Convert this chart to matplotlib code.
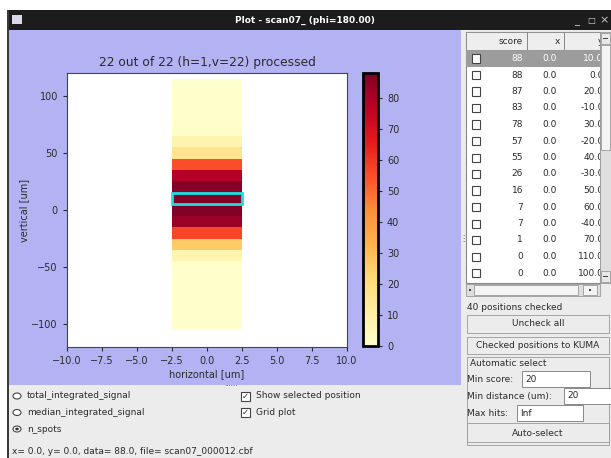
import matplotlib
matplotlib.use("Agg")
import matplotlib.pyplot as plt
from matplotlib.patches import Rectangle, Circle
from matplotlib.transforms import Bbox
import numpy as np

# n_spots per vertical position (h=1 column at x=0)
y_positions = [-100, -90, -80, -70, -60, -50, -40, -30, -20, -10, 0,
               10, 20, 30, 40, 50, 60, 70, 80, 90, 100, 110]
n_spots = [0, 0, 0, 0, 0, 0, 7, 26, 57, 83, 88,
           88, 87, 78, 55, 16, 7, 1, 0, 0, 0, 0]
x_positions = [0.0]
selected_y = 10

# table rows (sorted by score)
table_scores = [88, 88, 87, 83, 78, 57, 55, 26, 16, 7, 7, 1, 0, 0]
table_x = [0.0, 0.0, 0.0, 0.0, 0.0, 0.0, 0.0, 0.0, 0.0, 0.0, 0.0, 0.0, 0.0, 0.0]
table_y = [10.0, 0.0, 20.0, -10.0, 30.0, -20.0, 40.0, -30.0, 50.0, 60.0, -40.0, 70.0, 110.0, 100.0]

radio_labels = ["total_integrated_signal", "median_integrated_signal", "n_spots"]
check_labels = ["Show selected position", "Grid plot"]

W, H = 611, 458
LAV = "#b3b3f3"
GREY = "#ececec"
TXT = "#2a2a2a"


def fx(x):
    return x / W


def fy(y):
    return 1 - y / H


def rect(x0, y0, x1, y1, **kw):
    fig.add_artist(Rectangle((fx(x0), fy(y1)), (x1 - x0) / W, (y1 - y0) / H,
                             transform=fig.transFigure, **kw))


def label(x, y, s, **kw):
    kw.setdefault("fontsize", 6.5)
    kw.setdefault("color", TXT)
    kw.setdefault("va", "center")
    return fig.text(fx(x), fy(y), s, **kw)


fig = plt.figure(figsize=(W / 100, H / 100), dpi=100)
fig.patch.set_facecolor("white")

# window frame
rect(8, 10, 611, 458, facecolor=GREY, edgecolor="none", zorder=0)
rect(8, 10, 611, 30, facecolor="#1c1c1c", edgecolor="none", zorder=0)
rect(8, 30, 461, 385, facecolor=LAV, edgecolor="none", zorder=0)
rect(7, 10, 9, 458, facecolor="#3a3a3a", edgecolor="none", zorder=0)
rect(12, 15, 22, 24, facecolor="#d8d8e8", edgecolor="none", zorder=1)
label(305, 20, "Plot - scan07_ (phi=180.00)", color="white", fontweight="bold",
      ha="center", fontsize=6.5)
label(577, 21, "_", color="#cccccc", ha="center", fontsize=7)
label(591, 20, "□", color="#cccccc", ha="center", fontsize=6)
label(604, 20, "×", color="#cccccc", ha="center", fontsize=8)

# main plot
ax = fig.add_axes([fx(67), fy(347), 280 / W, 274 / H])
cax = fig.add_axes([fx(363), fy(346), 15 / W, 273 / H])

y_edges = np.array(y_positions + [y_positions[-1] + 10]) - 5
x_edges = np.array([x_positions[0] - 2.5, x_positions[0] + 2.5])
grid = np.array(n_spots, dtype=float).reshape(-1, 1)
mesh = ax.pcolormesh(x_edges, y_edges, grid, cmap="YlOrRd", vmin=0, vmax=max(n_spots))
ax.add_patch(Rectangle((x_positions[0] - 2.5, selected_y - 5), 5, 10,
                       fill=False, edgecolor="#19e0e0", linewidth=2, zorder=3))
ax.set_xlim(-10, 10)
ax.set_ylim(-120, 120)
ax.set_xticks(np.arange(-10, 10.1, 2.5))
ax.set_yticks([-100, -50, 0, 50, 100])
ax.tick_params(labelsize=7, colors=TXT, length=3)
ax.set_xlabel("horizontal [um]", fontsize=7, color=TXT, labelpad=2)
ax.set_ylabel("vertical [um]", fontsize=7, color=TXT, labelpad=2)
ax.set_title("22 out of 22 (h=1,v=22) processed", fontsize=8.8, color=TXT, pad=5)
for s in ax.spines.values():
    s.set_color("#444444")

cb = fig.colorbar(mesh, cax=cax, ticks=range(0, 81, 10))
cb.outline.set_linewidth(2)
cb.outline.set_edgecolor("black")
cax.tick_params(labelsize=7, colors=TXT, length=3)

# splitter dots
label(231, 384, "......", ha="center", fontsize=5, color="#555555")
label(463, 238, "⋮", ha="center", fontsize=6, color="#555555")

# bottom options
for i, txt in enumerate(radio_labels):
    yy = 396 + i * 16.5
    fig.add_artist(Circle((fx(17), fy(yy)), 4 / W, transform=fig.transFigure,
                          facecolor="white", edgecolor="#444444", linewidth=0.8))
    if txt == "n_spots":
        fig.add_artist(Circle((fx(17), fy(yy)), 1.8 / W, transform=fig.transFigure,
                              facecolor="#333333", edgecolor="none"))
    label(27, yy, txt)
for i, txt in enumerate(check_labels):
    yy = 396 + i * 16.5
    rect(241, yy - 4.5, 250, yy + 4.5, facecolor="white", edgecolor="#444444", linewidth=0.8)
    label(245.5, yy, "✓", ha="center", fontsize=6)
    label(256, yy, txt)
label(12, 451, "x= 0.0, y= 0.0, data= 88.0, file= scan07_000012.cbf")

# table; the y column is cut off by the vertical scrollbar
clip = Bbox.from_extents(466, 0, 600, H)
rect(466, 32, 600, 283, facecolor="white", edgecolor="#888888", linewidth=0.8, zorder=1)
rect(466, 32, 600, 50, facecolor="#eeeeee", edgecolor="#888888", linewidth=0.6, zorder=1)
for xs in (527, 564):
    rect(xs, 32, xs + 0.5, 50, facecolor="#888888", edgecolor="none", zorder=1)
label(523, 42, "score", ha="right")
label(560, 42, "x", ha="right")
t = label(603, 42, "y", ha="right")
t.set_clip_box(clip)
for i in range(len(table_scores)):
    yc = 58.5 + 16.5 * i
    col = TXT
    if i == 0:
        rect(466, yc - 8, 600, yc + 8, facecolor="#9c9c9c", edgecolor="none", zorder=1)
        col = "white"
    rect(472, yc - 4, 480, yc + 4, facecolor="white", edgecolor="#444444", linewidth=0.8, zorder=2)
    label(523, yc, f"{table_scores[i]}", ha="right", color=col)
    label(557, yc, f"{table_x[i]:.1f}", ha="right", color=col)
    t = label(603.5, yc, f"{table_y[i]:.1f}", ha="right", color=col)
    t.set_clip_box(clip)

# scrollbars
rect(600, 32, 611, 283, facecolor="#dedede", edgecolor="#999999", linewidth=0.6, zorder=5)
rect(601, 45, 610, 150, facecolor="#f4f4f4", edgecolor="#999999", linewidth=0.6, zorder=5)
rect(601, 33, 610, 44, facecolor="#e8e8e8", edgecolor="#999999", linewidth=0.6, zorder=5)
rect(601, 271, 610, 282, facecolor="#e8e8e8", edgecolor="#999999", linewidth=0.6, zorder=5)
rect(603, 38, 608, 39, facecolor="#444444", edgecolor="none", zorder=6)
rect(603, 276, 608, 277, facecolor="#444444", edgecolor="none", zorder=6)
rect(466, 284, 600, 296, facecolor="#dedede", edgecolor="#999999", linewidth=0.6, zorder=5)
rect(474, 285, 578, 295, facecolor="#f4f4f4", edgecolor="#999999", linewidth=0.6, zorder=5)
rect(583, 285, 597, 295, facecolor="#f4f4f4", edgecolor="#999999", linewidth=0.6, zorder=5)
rect(469, 289, 471, 291, facecolor="#444444", edgecolor="none", zorder=6)
rect(589, 289, 591, 291, facecolor="#444444", edgecolor="none", zorder=6)

# controls below the table
label(467, 307, "40 positions checked")
rect(467, 315, 609, 333, facecolor=GREY, edgecolor="#999999", linewidth=0.6)
label(538, 324, "Uncheck all", ha="center")
rect(467, 337, 609, 354, facecolor=GREY, edgecolor="#999999", linewidth=0.6)
label(538, 346, "Checked positions to KUMA", ha="center")
rect(467, 357, 609, 445, facecolor="none", edgecolor="#999999", linewidth=0.6)
label(470, 363, "Automatic select")
label(467, 379, "Min score:")
rect(522, 371, 590, 387, facecolor="white", edgecolor="#777777", linewidth=0.6)
label(525, 379, "20")
label(467, 396, "Min distance (um):")
rect(564, 388, 611, 404, facecolor="white", edgecolor="#777777", linewidth=0.6)
label(567, 396, "20")
label(467, 413, "Max hits:")
rect(517, 405, 583, 421, facecolor="white", edgecolor="#777777", linewidth=0.6)
label(520, 413, "Inf")
rect(467, 423, 609, 442, facecolor=GREY, edgecolor="#999999", linewidth=0.6)
label(538, 433, "Auto-select", ha="center")

fig.savefig("out.png", dpi=100)
